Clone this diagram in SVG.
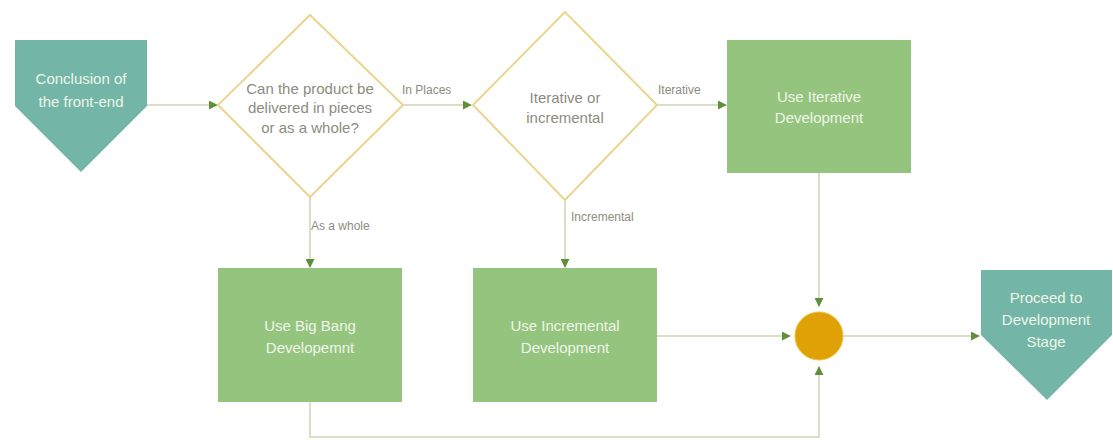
<svg xmlns="http://www.w3.org/2000/svg" width="1113" height="443" viewBox="0 0 1113 443">
<defs>
<marker id="ah" viewBox="0 0 10 10" refX="9" refY="5" markerWidth="9" markerHeight="9" markerUnits="userSpaceOnUse" orient="auto">
<path d="M0,0 L10,5 L0,10 Z" fill="#5f8f3a"/>
</marker>
<style>
.term{fill:#73b5a7;}
.proc{fill:#95c47e;}
.dec{fill:#ffffff;stroke:#ead58f;stroke-width:2;}
.wt{font-family:"Liberation Sans",Arial,sans-serif;font-size:15px;fill:#eef6e8;text-anchor:middle;}
.gt{font-family:"Liberation Sans",Arial,sans-serif;font-size:15px;fill:#8c8c80;text-anchor:middle;}
.lbl{font-family:"Liberation Sans",Arial,sans-serif;font-size:12px;fill:#8c8c80;}
.con{fill:none;stroke:#dcdfc8;stroke-width:2;}
</style>
</defs>
<rect width="1113" height="443" fill="#ffffff"/>
<g id="connectors">
<path class="con" d="M147,105 L217,105" marker-end="url(#ah)"/>
<path class="con" d="M403,105 L471,105" marker-end="url(#ah)"/>
<text class="lbl" x="402" y="94">In Places</text>
<path class="con" d="M657,105 L726,105" marker-end="url(#ah)"/>
<text class="lbl" x="658" y="94">Iterative</text>
<path class="con" d="M310,197 L310,267" marker-end="url(#ah)"/>
<text class="lbl" x="311" y="230">As a whole</text>
<path class="con" d="M565,200 L565,267" marker-end="url(#ah)"/>
<text class="lbl" x="571" y="221">Incremental</text>
<path class="con" d="M819,173 L819,306" marker-end="url(#ah)"/>
<path class="con" d="M657,336 L790,336" marker-end="url(#ah)"/>
<path class="con" d="M310,402 L310,437 L819,437 L819,367" marker-end="url(#ah)"/>
<path class="con" d="M843,336 L979,336" marker-end="url(#ah)"/>
</g>
<g id="start">
<polygon class="term" points="15,40 147,40 147,106 81,172 15,106"/>
<text class="wt" x="81" y="84">Conclusion of</text>
<text class="wt" x="81" y="107">the front-end</text>
</g>
<g id="decision1">
<polygon class="dec" points="310,15 403,105 310,197 218,105"/>
<text class="gt" x="310" y="94">Can the product be</text>
<text class="gt" x="310" y="113">delivered in pieces</text>
<text class="gt" x="310" y="133">or as a whole?</text>
</g>
<g id="decision2">
<polygon class="dec" points="565,12 657,105 565,200 473,105"/>
<text class="gt" x="565" y="103">Iterative or</text>
<text class="gt" x="565" y="123">incremental</text>
</g>
<g id="iterative">
<rect class="proc" x="727" y="40" width="184" height="133"/>
<text class="wt" x="819" y="102">Use Iterative</text>
<text class="wt" x="819" y="123">Development</text>
</g>
<g id="bigbang">
<rect class="proc" x="218" y="268" width="184" height="134"/>
<text class="wt" x="310" y="331">Use Big Bang</text>
<text class="wt" x="310" y="353">Developemnt</text>
</g>
<g id="incremental">
<rect class="proc" x="473" y="268" width="184" height="134"/>
<text class="wt" x="565" y="331">Use Incremental</text>
<text class="wt" x="565" y="353">Development</text>
</g>
<g id="merge">
<circle cx="819" cy="336" r="24" fill="#e0a106" stroke="#f0c040" stroke-width="1"/>
</g>
<g id="end">
<polygon class="term" points="981,270 1112,270 1112,335 1047,400 981,335"/>
<text class="wt" x="1046" y="303">Proceed to</text>
<text class="wt" x="1046" y="325">Development</text>
<text class="wt" x="1046" y="347">Stage</text>
</g>
</svg>
